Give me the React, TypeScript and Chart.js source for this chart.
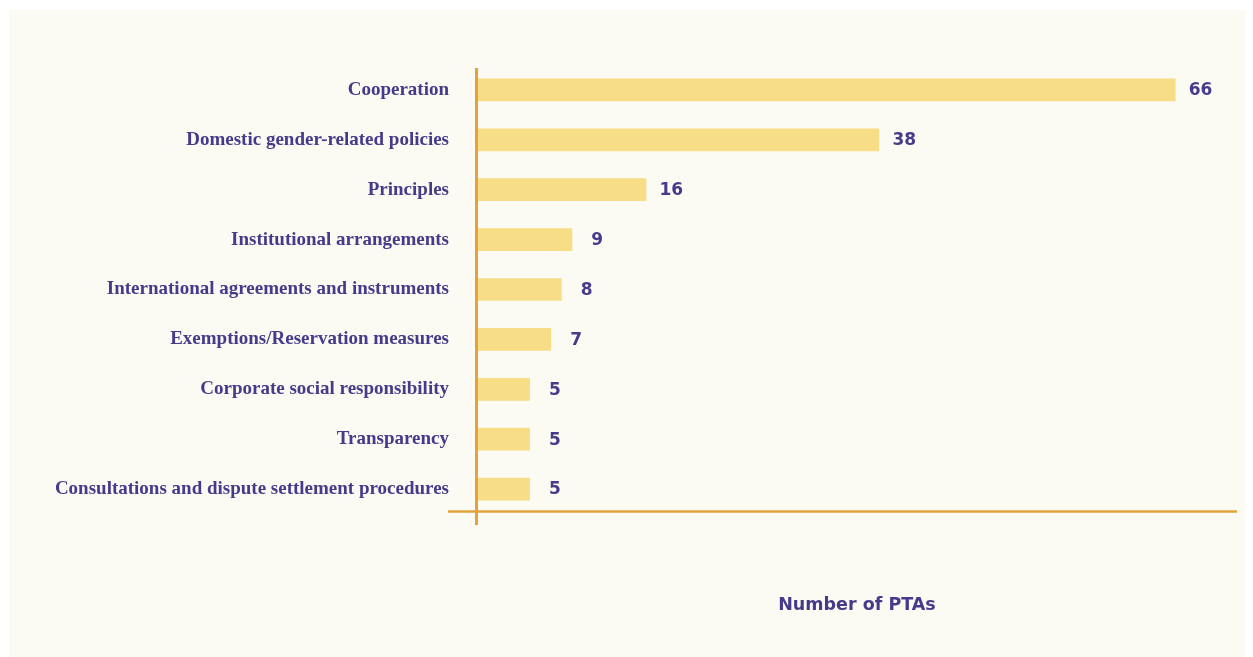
import React, { useEffect, useRef } from "react";
import { Chart, registerables } from "chart.js";

Chart.register(...registerables);

const categories = [
  "Cooperation",
  "Domestic gender-related policies",
  "Principles",
  "Institutional arrangements",
  "International agreements and instruments",
  "Exemptions/Reservation measures",
  "Corporate social responsibility",
  "Transparency",
  "Consultations and dispute settlement procedures",
];
const values = [66, 38, 16, 9, 8, 7, 5, 5, 5];
const axisTitle = "Number of PTAs";

const PURPLE = "#473a8a";
const BAR = "#f6dd86";
const AXIS = "#e4a23b";
const BG = "#fcfbf3";

const decorPlugin = {
  id: "decor",
  afterDatasetsDraw(chart: any) {
    const { ctx, chartArea } = chart;
    const meta = chart.getDatasetMeta(0);
    ctx.save();
    // value labels
    ctx.fillStyle = PURPLE;
    ctx.font = "bold 17px 'DejaVu Sans'";
    ctx.textAlign = "center";
    ctx.textBaseline = "middle";
    meta.data.forEach((el: any, i: number) => {
      ctx.fillText(String(values[i]), el.x + 25, el.y + 1);
    });
    // axis lines
    ctx.strokeStyle = AXIS;
    ctx.lineWidth = 3;
    ctx.beginPath();
    ctx.moveTo(chartArea.left - 0.5, chartArea.top + 3);
    ctx.lineTo(chartArea.left - 0.5, chartArea.bottom + 11);
    ctx.stroke();
    ctx.lineWidth = 2.5;
    ctx.beginPath();
    ctx.moveTo(chartArea.left - 29, chartArea.bottom - 2.5);
    ctx.lineTo(chartArea.right, chartArea.bottom - 2.5);
    ctx.stroke();
    ctx.restore();
  },
};

export default function App() {
  const ref = useRef<HTMLCanvasElement>(null);
  useEffect(() => {
    if (!ref.current) return;
    const chart = new Chart(ref.current, {
      type: "bar",
      data: {
        labels: categories,
        datasets: [
          {
            data: values,
            backgroundColor: BAR,
            borderWidth: 0,
            categoryPercentage: 1,
            barPercentage: 0.455,
          },
        ],
      },
      options: {
        indexAxis: "y",
        animation: false,
        responsive: false,
        layout: { padding: { top: 55, right: 16, left: 0, bottom: 0 } },
        plugins: {
          legend: { display: false },
          tooltip: { enabled: false },
        },
        scales: {
          x: {
            min: 0,
            max: 71.8,
            grid: { display: false, drawTicks: false },
            border: { display: false },
            ticks: { display: false },
            afterFit: (s: any) => {
              s.height = 143;
            },
            title: {
              display: true,
              text: axisTitle,
              color: PURPLE,
              font: { family: "DejaVu Sans", size: 17.5, weight: "bold" },
              padding: { top: 0, bottom: 41 },
            },
          },
          y: {
            grid: { display: false, drawTicks: false },
            border: { display: false },
            afterFit: (s: any) => {
              s.width = 468;
            },
            ticks: {
              color: PURPLE,
              padding: 28,
              font: { family: "Liberation Serif", size: 19, weight: "bold" },
            },
          },
        },
      },
      plugins: [decorPlugin],
    });
    return () => chart.destroy();
  }, []);
  return (
    <div
      style={{
        background: BG,
        width: 1244,
        height: 647,
        marginTop: 2,
        marginLeft: 1,
      }}
    >
      <canvas ref={ref} width={1244} height={647} style={{ display: "block" }} />
    </div>
  );
}
